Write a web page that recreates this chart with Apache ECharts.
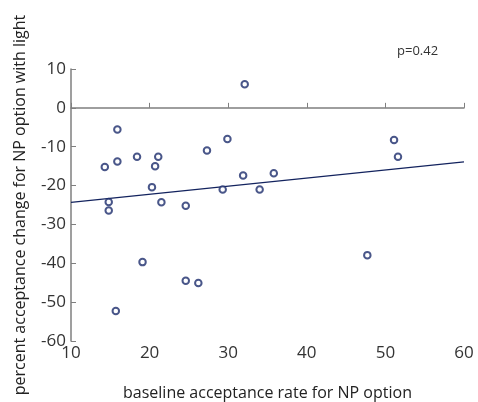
<!DOCTYPE html>
<html>
<head>
<meta charset="utf-8">
<script src="https://cdn.jsdelivr.net/npm/echarts@6/dist/echarts.min.js"></script>
<style>
  html, body { margin: 0; padding: 0; background: #fff; }
  #main { width: 478px; height: 402px; }
</style>
</head>
<body>
<div id="main"></div>
<script type="text/javascript">
    // baseline acceptance rate (x) and change with light (y), one pair per point
    var baseline = [14.3, 15.9, 15.9, 14.8, 14.8, 15.7, 18.4, 19.1, 20.3, 20.7, 21.1, 21.5,
                    24.6, 24.6, 26.2, 27.3, 29.3, 29.9, 32.1, 31.9, 34.0, 35.8, 47.7, 51.1, 51.6];
    var change = [-15.2, -5.6, -13.8, -24.2, -26.4, -52.3, -12.6, -39.7, -20.4, -15.0, -12.6, -24.3,
                  -25.2, -44.5, -45.1, -11.0, -21.0, -8.0, 6.1, -17.4, -21.0, -16.8, -37.9, -8.3, -12.6];
    // regression line end points
    var fitX = [10, 60];
    var fitY = [-24.3, -13.9];

    var points = baseline.map(function (x, i) { return [x, change[i]]; });
    var fit = fitX.map(function (x, i) { return [x, fitY[i]]; });

    var myChart = echarts.init(document.getElementById('main'));
    var axisGrey = '#7f7f7f';
    var option = {
        animation: false,
        textStyle: { fontFamily: 'Open Sans' },
        grid: { left: 71, right: 14, top: 69, bottom: 61, outerBoundsMode: 'none' },
        graphic: [{
            type: 'text',
            left: 397, top: 45,
            style: { text: 'p=0.42', fontSize: 13, fill: '#333', fontFamily: 'Open Sans' }
        }],
        xAxis: {
            type: 'value', min: 10, max: 60, interval: 10,
            name: 'baseline acceptance rate for NP option',
            nameLocation: 'middle', nameGap: 44,
            nameTextStyle: { fontSize: 16, color: '#222' },
            axisLine: { lineStyle: { color: axisGrey, width: 1.5 } },
            axisTick: { inside: true, length: 5, lineStyle: { color: axisGrey } },
            axisLabel: { fontSize: 17, color: '#333', margin: 4 },
            splitLine: { show: false }
        },
        yAxis: {
            type: 'value', min: -60, max: 10, interval: 10,
            name: 'percent acceptance change for NP option with light',
            nameLocation: 'middle', nameGap: 43,
            nameTextStyle: { fontSize: 16, color: '#222' },
            axisLine: { show: true, lineStyle: { color: axisGrey, width: 1.5 } },
            axisTick: { show: true, inside: true, length: 5, lineStyle: { color: axisGrey } },
            axisLabel: { fontSize: 17, color: '#333', margin: 5 },
            splitLine: { show: false }
        },
        series: [
            {
                type: 'line',
                data: fit,
                symbol: 'none',
                lineStyle: { color: '#13235e', width: 1.3 },
                z: 2
            },
            {
                type: 'scatter',
                data: points,
                symbol: 'emptyCircle',
                symbolSize: 6.5,
                itemStyle: { color: '#1c2c6b', borderColor: '#1c2c6b', borderWidth: 1.5 },
                z: 3
            }
        ]
    };
    myChart.setOption(option);
</script>
</body>
</html>
